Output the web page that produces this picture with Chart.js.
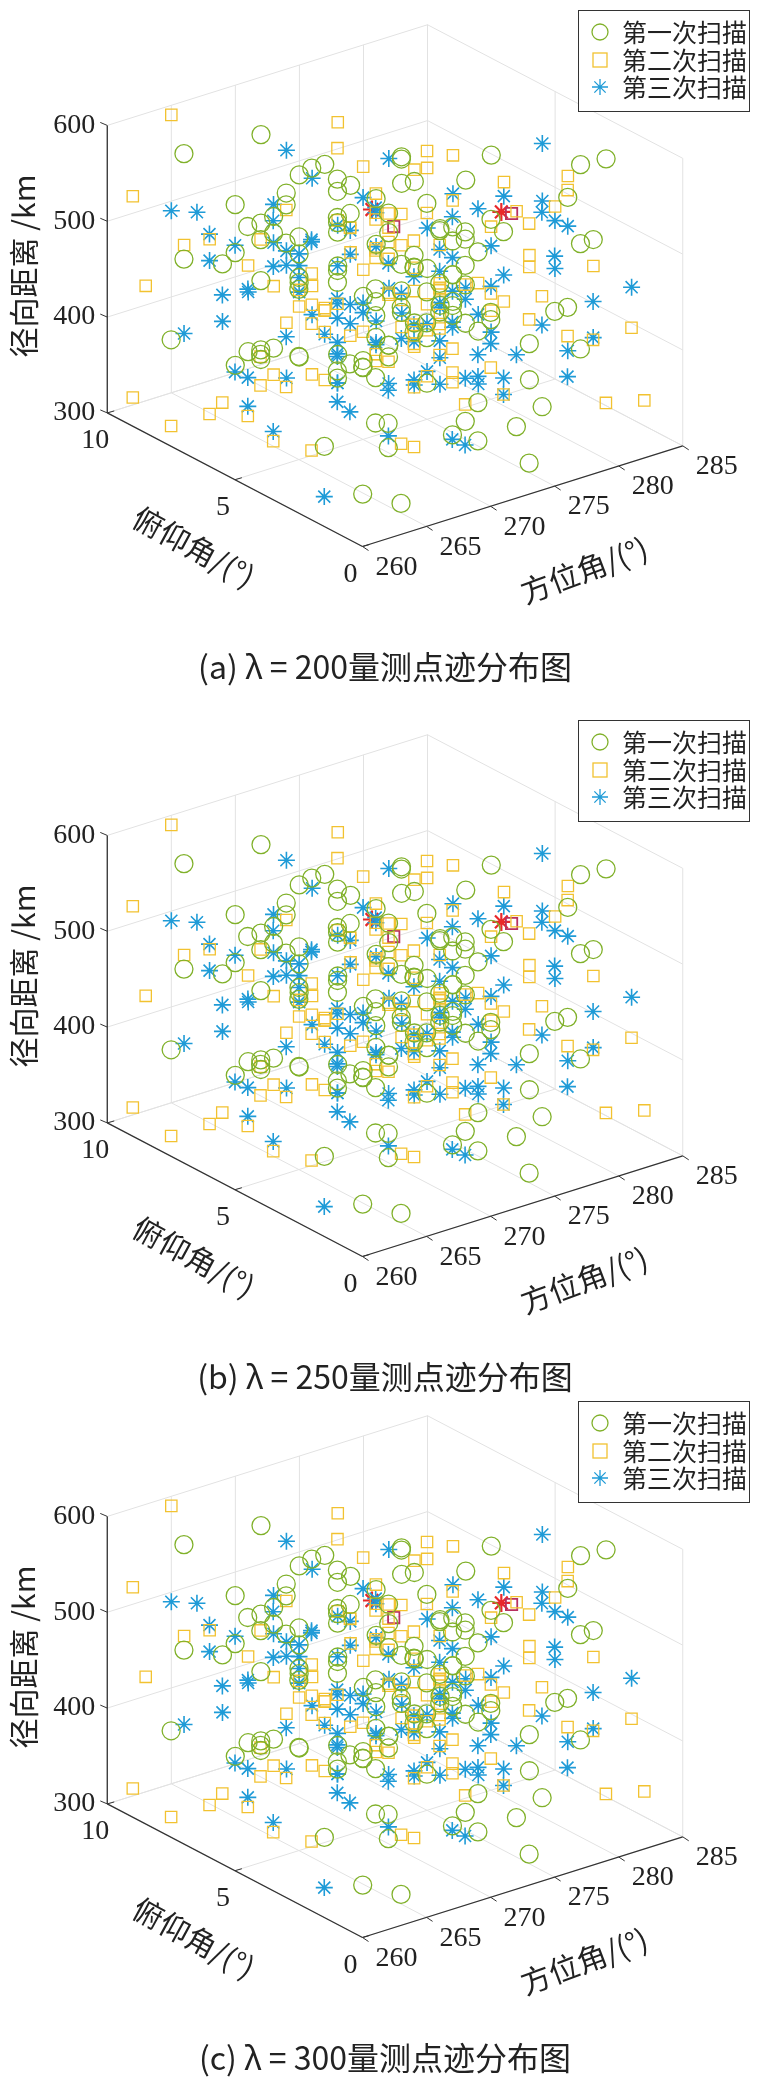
<!DOCTYPE html>
<html>
<head>
<meta charset="utf-8">
<script src="https://cdn.jsdelivr.net/npm/chart.js@4"></script>
<style>
  body { margin: 0; background: #fff; width: 758px; height: 2091px; position: relative; overflow: hidden; }
  .panel { position: absolute; left: 0; width: 758px; height: 700px; }
</style>
</head>
<body>
<div class="panel" style="top:0px"><canvas id="c0" width="758" height="700"></canvas></div>
<div class="panel" style="top:710px"><canvas id="c1" width="758" height="700"></canvas></div>
<div class="panel" style="top:1391px"><canvas id="c2" width="758" height="700"></canvas></div>
<script>
// tick labels
const azTicks = [260, 265, 270, 275, 280, 285];
const elTicks = [0, 5, 10];
const rTicks = [300, 400, 500, 600];
const captions = ['(a) λ = 200量测点迹分布图', '(b) λ = 250量测点迹分布图', '(c) λ = 300量测点迹分布图'];
const seriesNames = ['第一次扫描', '第二次扫描', '第三次扫描'];

// scan 1 (circles)
const scan1Az = [262,266,270,273,277,281,284,263,268,272,275,279,283,261,265,269,274,278,282,264,
  267,271,276,280,262,266,270,273,277,281,263,268,272,275,279,284,261,265,269,274,
  278,283,264,267,271,276,280,282,262,266,270,273,277,281,263,268,272,275,279,265,
  269,274,278,267,271,276,264,270,273,266,
  268,270,272,274,276,269,271,273,275,267,270,272,274,277,268,271,273,276,269,272,
  266,268,275,277,270,273,267,271,274,278,265,269,272,276,270,274,268,273,271,275,
  263,279,266,281,264,280,270,272,274,268,271,273,269,275,277,267,270,276,272,274];
const scan1El = [8,3,6,1,9,4,7,2,5,10,1,6,3,8,2,9,4,7,2,5,9,1,6,3,8,2,9,5,1,7,4,9,2,6,3,8,5,1,7,3,
  9,2,6,1,8,4,7,3,0,5,9,3,7,2,4,8,1,6,9,2,5,8,1,7,3,9,2,6,4,8,
  5,3,7,4,6,2,8,5,3,6,4,7,2,5,8,3,6,4,7,5,
  6,2,4,8,3,5,7,1,6,4,5,3,7,2,6,4,8,3,5,7,
  3,6,8,2,5,7,4,6,3,5,7,2,8,4,6,3,5,7,2,6];
const scan1R = [590,420,350,560,480,330,510,450,380,540,310,470,560,400,520,340,430,360,500,570,
  440,390,530,320,480,350,410,580,460,370,500,330,550,420,390,470,560,310,440,520,
  360,580,400,490,340,450,370,530,420,600,470,320,510,390,430,350,480,560,410,380,
  540,330,460,500,570,400,310,450,360,520,
  540,520,480,460,440,500,530,470,420,510,550,490,450,400,360,430,380,410,470,390,
  560,530,500,480,440,420,380,350,460,510,490,470,440,330,545,515,475,455,425,395,
  350,420,470,500,530,450,400,360,330,580,555,525,495,465,435,405,375,345,515,485];

// scan 2 (squares)
const scan2Az = [260,264,268,271,275,279,283,262,266,270,274,278,282,285,261,265,269,273,277,281,
  263,267,271,275,279,284,260,264,268,272,276,280,262,266,270,274,278,283,261,265,
  269,273,277,281,263,267,271,276,280,284,264,268,272,276,279,262,266,270,274,278,
  282,265,269,273,277,267,271,275,263,280,
  269,271,273,275,268,270,272,274,276,267,270,272,274,269,271,273,275,268,270,277,
  266,272,278,270,274,268,271,276,273,269,264,280,267,275,271,273,270,272,274,276,
  268,270,272,269,271,273,275,274,270,272];
const scan2El = [9,5,2,7,1,4,8,3,10,6,2,7,0,5,8,3,9,1,6,4,7,2,8,5,0,3,9,6,1,4,8,2,5,9,3,7,1,6,4,10,
  2,8,5,0,6,3,9,1,7,4,8,2,6,9,3,5,1,7,4,0,6,2,8,5,9,3,7,1,10,4,
  4,6,3,5,7,2,5,4,6,3,8,2,5,7,4,6,3,5,2,7,
  5,3,6,4,8,2,5,7,3,6,4,5,2,7,3,6,4,8,5,3,
  6,4,2,5,7,3,5,6,4,3];
const scan2R = [540,380,470,330,560,420,500,350,450,590,400,520,360,480,310,570,430,390,540,460,
  340,500,410,580,370,450,330,520,480,360,410,560,390,470,320,540,430,500,350,590,
  460,380,520,440,340,570,400,480,360,530,310,450,390,550,470,420,580,340,500,440,
  370,560,330,490,410,540,380,460,420,510,
  400,390,410,420,520,500,480,460,440,530,380,370,395,415,545,510,470,450,430,360,
  490,440,410,520,470,505,385,400,375,425,460,480,350,340,560,530,395,410,380,455,
  435,465,495,525,405,385,345,505,535,475];

// scan 3 (stars)
const scan3Az = [261,265,269,273,277,281,284,263,267,271,275,279,283,262,266,270,274,278,282,260,
  264,268,272,276,280,284,261,265,269,273,277,281,263,267,271,275,279,283,262,266,
  270,274,278,282,264,268,272,276,280,261,265,269,273,277,281,263,267,271,275,279,
  266,270,274,278,262,268,272,276,264,280,
  268,270,272,274,269,271,273,275,267,270,272,276,268,271,274,269,273,275,270,272,
  266,278,264,280,270,274,268,272,276,271,273,269,275,267,277,270,272,274,268,276,
  263,282,265,279,271,273,270,274,269,272];
const scan3El = [4,8,1,6,3,9,5,2,7,10,0,5,8,3,6,1,9,4,7,2,8,3,6,0,9,5,2,7,4,1,8,3,6,10,2,5,9,1,7,4,
  8,0,6,3,9,2,5,7,1,4,10,6,2,8,3,5,9,1,7,4,2,8,5,0,6,3,9,1,7,5,
  5,3,6,4,7,2,5,4,6,3,8,5,2,6,4,7,3,5,2,6,
  4,6,3,5,8,2,5,7,4,6,3,5,2,7,4,6,3,8,5,2,
  6,3,5,7,4,2,6,3,5,7];
const scan3R = [580,430,360,510,470,330,550,400,490,380,540,320,460,570,410,350,500,440,380,590,
  470,340,530,410,360,490,320,450,560,390,430,510,350,480,570,400,330,460,520,370,
  440,590,310,500,380,470,350,540,420,360,490,400,570,330,460,510,380,440,350,530,
  410,560,340,480,390,520,300,450,500,370,
  450,430,420,400,470,460,440,410,480,390,380,360,520,500,440,430,470,350,540,410,
  420,390,500,460,455,425,395,365,435,475,505,445,385,530,415,345,495,465,435,405,
  380,370,490,455,415,395,345,375,425,445];

// targets (red)
const targetStarAz = [270.7, 280.8];
const targetStarEl = [5, 5];
const targetStarR = [537, 492];
const targetBoxAz = [272.4, 281.6];
const targetBoxEl = [5, 5];
const targetBoxR = [512, 487];

// projection of the 3D box onto the canvas
const O = [362, 553], A = [330, -104], E = [-263, -138], Z = [0, -297];
function proj(az, el, r) {
  const a = (az - 260) / 25, e = el / 10, z = (r - 300) / 300;
  return { x: O[0] + a * A[0] + e * E[0] + z * Z[0], y: O[1] + a * A[1] + e * E[1] + z * Z[1] };
}
function pts(az, el, r) { return az.map((v, i) => proj(v, el[i], r[i])); }

const GREEN = '#80b12a', YELLOW = '#f2c230', BLUE = '#1f9bd7', RED = '#e8282a';

function makePlugin(caption) {
  return {
    id: 'box3d',
    beforeDatasetsDraw(chart) {
      const ctx = chart.ctx, xs = chart.scales.x, ys = chart.scales.y;
      const P = (az, el, r) => { const p = proj(az, el, r); return [xs.getPixelForValue(p.x), ys.getPixelForValue(p.y)]; };
      const line = (a, b, col, w) => {
        ctx.beginPath(); ctx.moveTo(a[0], a[1]); ctx.lineTo(b[0], b[1]);
        ctx.strokeStyle = col; ctx.lineWidth = w; ctx.stroke();
      };
      ctx.save();
      const g = '#e2e2e2';
      // back wall el = 10
      azTicks.forEach(a => line(P(a, 10, 300), P(a, 10, 600), g, 1));
      rTicks.forEach(r => line(P(260, 10, r), P(285, 10, r), g, 1));
      // back wall az = 285
      elTicks.forEach(e => line(P(285, e, 300), P(285, e, 600), g, 1));
      rTicks.forEach(r => line(P(285, 0, r), P(285, 10, r), g, 1));
      // floor r = 300
      azTicks.forEach(a => line(P(a, 0, 300), P(a, 10, 300), g, 1));
      elTicks.forEach(e => line(P(260, e, 300), P(285, e, 300), g, 1));
      // axes
      const k = '#333';
      line(P(260, 10, 300), P(260, 10, 600), k, 1.3);
      line(P(260, 0, 300), P(260, 10, 300), k, 1.3);
      line(P(260, 0, 300), P(285, 0, 300), k, 1.3);
      rTicks.forEach(r => { const p = P(260, 10, r); line(p, [p[0] - 7, p[1] - 3], k, 1); });
      elTicks.forEach(e => { const p = P(260, e, 300); line(p, [p[0] + 7, p[1] - 2], k, 1); });
      azTicks.forEach(a => { const p = P(a, 0, 300); line(p, [p[0] + 6, p[1] + 4], k, 1); });
      ctx.restore();
    },
    afterDraw(chart) {
      const ctx = chart.ctx, xs = chart.scales.x, ys = chart.scales.y;
      const P = (az, el, r) => { const p = proj(az, el, r); return [xs.getPixelForValue(p.x), ys.getPixelForValue(p.y)]; };
      ctx.save();
      ctx.fillStyle = '#222';
      ctx.font = '28px "Liberation Serif"';
      ctx.textBaseline = 'middle';
      ctx.textAlign = 'right';
      rTicks.forEach(r => { const p = P(260, 10, r); ctx.fillText(String(r), p[0] - 12, p[1]); });
      ctx.textAlign = 'center';
      elTicks.forEach(e => { const p = P(260, e, 300); ctx.fillText(String(e), p[0] - 12, p[1] + 28); });
      azTicks.forEach(a => { const p = P(a, 0, 300); ctx.fillText(String(a), p[0] + 34, p[1] + 21); });
      // axis titles
      ctx.font = '30px "Noto Sans CJK SC"';
      ctx.save(); ctx.translate(24, 266); ctx.rotate(-Math.PI / 2); ctx.fillText('径向距离 /km', 0, 0); ctx.restore();
      ctx.save(); ctx.translate(194, 547); ctx.rotate(0.5); ctx.fillText('俯仰角/(°)', 0, 0); ctx.restore();
      ctx.save(); ctx.translate(584, 570); ctx.rotate(-0.36); ctx.fillText('方位角/(°)', 0, 0); ctx.restore();
      // caption
      ctx.font = '32px "Noto Sans CJK SC"';
      ctx.fillText(caption, 385, 667);
      // legend
      ctx.fillStyle = '#fff'; ctx.fillRect(578, 10, 172, 101);
      ctx.strokeStyle = '#333'; ctx.lineWidth = 1; ctx.strokeRect(578.5, 10.5, 171, 101);
      const ly = [32, 60, 87], lx = 600;
      ctx.lineWidth = 1.3;
      ctx.strokeStyle = GREEN; ctx.beginPath(); ctx.arc(lx, ly[0], 8, 0, Math.PI * 2); ctx.stroke();
      ctx.strokeStyle = YELLOW; ctx.strokeRect(lx - 7, ly[1] - 7, 14, 14);
      ctx.strokeStyle = BLUE; ctx.beginPath();
      for (let i = 0; i < 4; i++) {
        const t = i * Math.PI / 4;
        ctx.moveTo(lx - 8 * Math.cos(t), ly[2] - 8 * Math.sin(t));
        ctx.lineTo(lx + 8 * Math.cos(t), ly[2] + 8 * Math.sin(t));
      }
      ctx.stroke();
      ctx.fillStyle = '#222'; ctx.textAlign = 'left'; ctx.font = '25px "Noto Sans CJK SC"';
      seriesNames.forEach((n, i) => ctx.fillText(n, 622, ly[i]));
      ctx.restore();
    }
  };
}

function drawPanel(id, caption) {
  new Chart(document.getElementById(id), {
    type: 'scatter',
    data: {
      datasets: [
        { label: seriesNames[0], data: pts(scan1Az, scan1El, scan1R), pointStyle: 'circle', radius: 9,
          borderColor: GREEN, backgroundColor: 'rgba(0,0,0,0)', borderWidth: 1.3 },
        { label: seriesNames[1], data: pts(scan2Az, scan2El, scan2R), pointStyle: 'rect', radius: 8,
          borderColor: YELLOW, backgroundColor: 'rgba(0,0,0,0)', borderWidth: 1.3 },
        { label: seriesNames[2], data: pts(scan3Az, scan3El, scan3R), pointStyle: 'star', radius: 8.5,
          borderColor: BLUE, backgroundColor: 'rgba(0,0,0,0)', borderWidth: 1.6 },
        { label: 'targetBox', data: pts(targetBoxAz, targetBoxEl, targetBoxR), pointStyle: 'rect', radius: 8,
          borderColor: '#b83060', backgroundColor: 'rgba(0,0,0,0)', borderWidth: 1.8 },
        { label: 'targetStar', data: pts(targetStarAz, targetStarEl, targetStarR), pointStyle: 'star', radius: 9,
          borderColor: RED, backgroundColor: 'rgba(0,0,0,0)', borderWidth: 2.2 }
      ]
    },
    options: {
      responsive: false,
      animation: false,
      layout: { padding: 0 },
      plugins: { legend: { display: false }, tooltip: { enabled: false } },
      scales: {
        x: { type: 'linear', min: 0, max: 758, display: false },
        y: { type: 'linear', min: 0, max: 700, reverse: true, display: false }
      }
    },
    plugins: [makePlugin(caption)]
  });
}

document.addEventListener('DOMContentLoaded', function() {
  drawPanel('c0', captions[0]);
  drawPanel('c1', captions[1]);
  drawPanel('c2', captions[2]);
});
</script>
</body>
</html>
